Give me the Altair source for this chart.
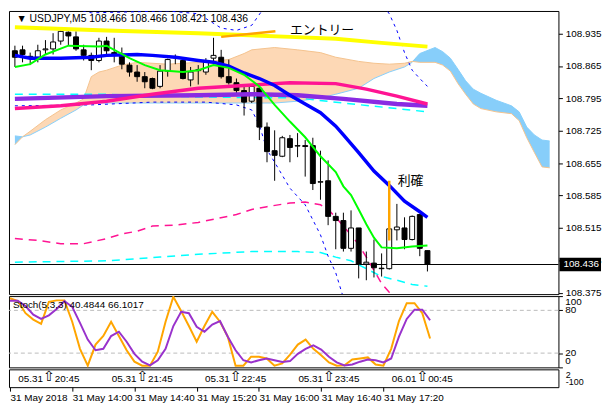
import altair as alt
import pandas as pd

# ---------------- data ----------------
bar_idx = list(range(55))
opens = [108.898, 108.900, 108.886, 108.884, 108.900, 108.902, 108.919, 108.938, 108.928, 108.900,
         108.888, 108.877, 108.919, 108.894, 108.886, 108.867, 108.852, 108.842, 108.838, 108.821,
         108.854, 108.885, 108.877, 108.835, 108.855, 108.852, 108.882, 108.884, 108.842, 108.829,
         108.812, 108.789, 108.817, 108.733, 108.682, 108.670, 108.708, 108.692, 108.693, 108.693,
         108.614, 108.617, 108.540, 108.531, 108.471, 108.515, 108.437, 108.439, 108.428, 108.427,
         108.511, 108.515, 108.490, 108.544, 108.466]
highs = [108.909, 108.909, 108.894, 108.911, 108.921, 108.936, 108.942, 108.940, 108.940, 108.911,
         108.894, 108.926, 108.928, 108.926, 108.905, 108.873, 108.867, 108.852, 108.840, 108.867,
         108.881, 108.890, 108.884, 108.863, 108.867, 108.882, 108.926, 108.900, 108.879, 108.838,
         108.821, 108.825, 108.821, 108.743, 108.726, 108.714, 108.716, 108.720, 108.705, 108.710,
         108.682, 108.661, 108.548, 108.548, 108.553, 108.515, 108.464, 108.490, 108.460, 108.515,
         108.567, 108.538, 108.542, 108.544, 108.466]
lows = [108.863, 108.873, 108.867, 108.873, 108.890, 108.890, 108.911, 108.909, 108.898, 108.877,
        108.856, 108.873, 108.888, 108.873, 108.858, 108.842, 108.831, 108.817, 108.815, 108.817,
        108.842, 108.869, 108.836, 108.821, 108.825, 108.846, 108.869, 108.838, 108.825, 108.800,
        108.758, 108.785, 108.705, 108.657, 108.617, 108.668, 108.657, 108.668, 108.626, 108.597,
        108.576, 108.521, 108.469, 108.464, 108.464, 108.406, 108.402, 108.408, 108.410, 108.425,
        108.488, 108.469, 108.488, 108.454, 108.421]
closes = [108.884, 108.890, 108.882, 108.898, 108.902, 108.917, 108.940, 108.930, 108.902, 108.888,
          108.877, 108.919, 108.898, 108.888, 108.869, 108.852, 108.842, 108.831, 108.817, 108.854,
          108.879, 108.883, 108.838, 108.852, 108.857, 108.873, 108.888, 108.842, 108.829, 108.812,
          108.787, 108.821, 108.733, 108.680, 108.672, 108.710, 108.689, 108.693, 108.691, 108.611,
          108.615, 108.540, 108.531, 108.471, 108.515, 108.437, 108.441, 108.429, 108.427, 108.513,
          108.517, 108.490, 108.540, 108.471, 108.436]

yellow_idx = [0, 12, 24, 36, 42, 48, 54]
yellow_val = [108.949, 108.942, 108.936, 108.928, 108.924, 108.915, 108.907]

blue_idx = [0, 2, 6, 10, 12, 16, 18, 21, 24, 26, 28, 30, 32, 34, 36, 38, 40, 42, 43, 45, 47, 49, 51, 53, 54]
blue_val = [108.888, 108.882, 108.882, 108.884, 108.888, 108.890, 108.888, 108.884, 108.877, 108.873,
            108.865, 108.850, 108.838, 108.823, 108.802, 108.783, 108.764, 108.735, 108.716, 108.678,
            108.638, 108.607, 108.573, 108.550, 108.538]

green_idx = [0, 2, 4, 7, 11, 12, 13, 15, 17, 19, 22, 24, 26, 28, 30, 32, 34, 36, 38, 40, 42, 43, 44,
             45, 46, 47, 48, 50, 52, 54]
green_val = [108.863, 108.869, 108.890, 108.909, 108.907, 108.909, 108.900, 108.882, 108.867, 108.856,
             108.852, 108.856, 108.867, 108.861, 108.846, 108.821, 108.781, 108.745, 108.711, 108.670,
             108.636, 108.605, 108.586, 108.555, 108.523, 108.494, 108.473, 108.471, 108.475, 108.477]

pink_idx = [0, 6, 12, 18, 24, 30, 36, 42, 46, 50, 54]
pink_val = [108.773, 108.779, 108.789, 108.804, 108.817, 108.823, 108.829, 108.827, 108.815, 108.800, 108.783]

purple_idx = [0, 12, 24, 31, 37, 43, 50, 54]
purple_val = [108.794, 108.800, 108.802, 108.804, 108.802, 108.794, 108.783, 108.779]

cyan_up_idx = [0, 12, 24, 37, 43, 50, 54]
cyan_up_val = [108.804, 108.804, 108.798, 108.796, 108.785, 108.773, 108.766]

cyan_lo_idx = [0, 12, 19, 24, 31, 37, 40, 42, 44, 46, 48, 50, 52, 54]
cyan_lo_val = [108.441, 108.444, 108.452, 108.458, 108.464, 108.464, 108.462, 108.452, 108.444, 108.427,
               108.410, 108.402, 108.393, 108.389]

pinkd_idx = [0, 3, 6, 9, 12, 14, 16, 18, 21, 24, 29, 31, 33, 36, 38, 40, 41, 42, 44, 45, 46, 48, 49, 50]
pinkd_val = [108.492, 108.488, 108.481, 108.481, 108.492, 108.502, 108.508, 108.519, 108.521, 108.527,
             108.544, 108.555, 108.561, 108.569, 108.571, 108.565, 108.555, 108.538, 108.500, 108.479,
             108.452, 108.395, 108.376, 108.360]

bluelo_idx = [0, 10, 18, 25, 29, 31, 32, 33, 34, 36, 38, 40, 41, 42, 43]
bluelo_val = [108.779, 108.781, 108.787, 108.787, 108.781, 108.770, 108.737, 108.684, 108.657, 108.601,
              108.565, 108.500, 108.454, 108.418, 108.364]

blueup_idx = [8, 10, 15, 20, 24, 27, 29, 31, 33, 48, 49, 50, 51, 52, 53, 54]
blueup_val = [108.988, 108.980, 108.982, 108.984, 108.978, 108.947, 108.942, 108.953, 109.000, 109.000,
              108.978, 108.942, 108.894, 108.856, 108.838, 108.821]

cloud_idx = [0, 1, 2, 4, 6, 8, 9, 10, 11, 12, 14, 16, 20, 24, 28, 30, 31, 34, 37, 40,
             42, 45, 47, 49, 51, 52, 53, 55, 56, 57, 58, 59, 60, 61, 63, 65, 66, 67, 68, 69, 70]
span_a = [108.695, 108.712, 108.724, 108.749, 108.770, 108.785, 108.794, 108.842, 108.852, 108.856,
          108.867, 108.873, 108.869, 108.873, 108.879, 108.892, 108.900, 108.905, 108.900, 108.894,
          108.884, 108.875, 108.871, 108.869, 108.871, 108.875, 108.873, 108.873, 108.867, 108.854,
          108.827, 108.804, 108.783, 108.773, 108.766, 108.762, 108.747, 108.710, 108.678, 108.647,
          108.645]
span_b = [108.714, 108.712, 108.716, 108.733, 108.752, 108.770, 108.781, 108.785, 108.785, 108.785,
          108.785, 108.785, 108.785, 108.785, 108.785, 108.785, 108.785, 108.785, 108.789, 108.796,
          108.804, 108.817, 108.838, 108.852, 108.863, 108.873, 108.892, 108.905, 108.896, 108.882,
          108.858, 108.833, 108.815, 108.806, 108.791, 108.779, 108.766, 108.733, 108.716, 108.705,
          108.703]

entry_line_idx = [27, 34.1]
entry_line_val = [108.928, 108.940]
tp_line_idx = [49, 49]
tp_line_val = [108.617, 108.488]

stoch_main = [97, 93, 76, 67, 61, 92, 94, 94, 64, 26, 2.5, 32, 44, 64, 44, 24, 8, 2.4, 2.4, 22,
              64, 99, 79, 58, 36, 58, 78, 64, 43, 2.4, 2.4, 15, 15, 12.5, 2.4, 5.6, 18, 32, 39, 26,
              17, 7, 2.4, 2.8, 11, 12.5, 14, 4, 2.4, 26, 65, 90, 90, 76, 40.4844]
stoch_signal = [93.5, 93.5, 86, 74, 68, 73, 82, 93, 85, 62.5, 39, 24, 26, 44, 50, 36, 19, 8, 2.8, 10,
                26, 58, 78, 76, 57, 50, 60, 65, 43, 24, 10, 7, 10, 12.5, 10, 7.6, 8.8, 19, 26, 31,
                25, 15, 7, 2.8, 4, 8, 11, 10, 7, 12.5, 43, 68, 81, 81, 66.1017]
stoch_levels = [20, 80]
stoch_ticks = [0, 20, 80, 100]

price_ticks = [108.375, 108.445, 108.515, 108.585, 108.655, 108.725, 108.795, 108.865, 108.935]
current_price = 108.436

time_tick_idx = [0, 8, 16, 24, 32, 40, 48]
time_tick_labels = ["31 May 2018", "31 May 14:00", "31 May 14:40", "31 May 15:20",
                    "31 May 16:00", "31 May 16:40", "31 May 17:20"]

marker_idx = [5, 17, 29, 41, 53]
marker_date = ["05.31", "05.31", "05.31", "05.31", "06.01"]
marker_time = ["20:45", "21:45", "22:45", "23:45", "00:45"]

third_ticks = [0.7, 0.32]
third_labels = ["2", "-100"]

header_text = "▼ USDJPY,M5  108.466 108.466 108.421 108.436"
stoch_text = "Stoch(5,3,3) 40.4844 66.1017"

# ---------------- layout ----------------
W = 555
H_MAIN = 286
H_STOCH = 72
H_THIRD = 18
FONT = "Liberation Sans"
JP = "Noto Sans CJK JP"

xs = alt.Scale(domain=[-0.125, 70.5], nice=False, zero=False)
ys = alt.Scale(domain=[108.372, 108.984], nice=False, zero=False)
X = alt.X("i:Q", scale=xs, axis=None)

price_axis = alt.Axis(orient="right", values=price_ticks, format=".3f", title=None,
                      tickSize=4, labelPadding=3, domain=False, grid=False, labelOverlap=False)


def Y(field):
    return alt.Y(field, scale=ys, axis=price_axis)


def line_layer(idx, vals, color, width, dash=None):
    df = pd.DataFrame({"i": idx, "v": vals})
    kw = dict(color=color, strokeWidth=width, clip=True)
    if dash:
        kw["strokeDash"] = dash
    return alt.Chart(df).mark_line(**kw).encode(x=X, y=Y("v:Q"))


cloud = pd.DataFrame({"i": cloud_idx, "a": span_a, "b": span_b})
cloud["top"] = cloud[["a", "b"]].max(axis=1)

cloud_peach = alt.Chart(cloud).mark_area(color="#FDD8B5", opacity=1, clip=True).encode(
    x=X, y=Y("top:Q"), y2="b:Q")
cloud_blue = alt.Chart(cloud).mark_area(color="#87CEFA", opacity=1, clip=True).encode(
    x=X, y=Y("top:Q"), y2="a:Q")
edge_b = line_layer(cloud_idx, span_b, "#87CEFA", 1)
edge_a = line_layer(cloud_idx, span_a, "#F4C28E", 1)

cur_df = pd.DataFrame({"p": [current_price], "t": [f"{current_price:.3f}"]})
cur_df["p_hi"] = cur_df["p"] + 0.0145
cur_df["p_lo"] = cur_df["p"] - 0.0145
cur_rule = alt.Chart(cur_df).mark_rule(color="black", strokeWidth=1).encode(y=Y("p:Q"))
cur_box = alt.Chart(cur_df).mark_rect(color="black").encode(
    x=alt.value(W + 1), x2=alt.value(W + 43), y=Y("p_hi:Q"), y2="p_lo:Q")
cur_txt = alt.Chart(cur_df).mark_text(color="white", font=FONT, fontSize=10, align="left",
                                      baseline="middle").encode(
    x=alt.value(W + 5), y=Y("p:Q"), text="t:N")

candles = pd.DataFrame({"i": bar_idx, "o": opens, "h": highs, "l": lows, "c": closes})
wicks = alt.Chart(candles).mark_rule(color="black", strokeWidth=1).encode(
    x=X, y=Y("l:Q"), y2="h:Q")
bodies = alt.Chart(candles).mark_bar(size=5, stroke="black", strokeWidth=1).encode(
    x=X, y=Y("o:Q"), y2="c:Q",
    fill=alt.condition("datum.c >= datum.o", alt.value("white"), alt.value("black")))

ann = pd.DataFrame({"i": [0.2, 36.0, 50.1], "v": [108.966, 108.942, 108.617],
                    "t": [header_text, "エントリー", "利確"]})
head_txt = alt.Chart(ann.iloc[[0]]).mark_text(font=FONT, fontSize=10.5, align="left",
                                              baseline="middle", color="black").encode(
    x=X, y=Y("v:Q"), text="t:N")
jp_txt = alt.Chart(ann.iloc[[1, 2]]).mark_text(font=JP, fontSize=13, align="left",
                                               baseline="middle", color="black").encode(
    x=X, y=Y("v:Q"), text="t:N")

main = alt.layer(
    cloud_peach, cloud_blue, edge_b, edge_a,
    cur_rule,
    line_layer(cyan_up_idx, cyan_up_val, "#00FFFF", 1.5, [8, 6]),
    line_layer(cyan_lo_idx, cyan_lo_val, "#00FFFF", 1.5, [8, 6]),
    line_layer(pinkd_idx, pinkd_val, "#FF1493", 1.5, [8, 6]),
    line_layer(bluelo_idx, bluelo_val, "#0000FF", 1, [3, 4]),
    line_layer(blueup_idx, blueup_val, "#0000FF", 1, [3, 4]),
    wicks, bodies,
    line_layer(purple_idx, purple_val, "#8A2BE2", 4.5),
    line_layer(pink_idx, pink_val, "#FF1493", 3.5),
    line_layer(yellow_idx, yellow_val, "#FFFF00", 4),
    line_layer(blue_idx, blue_val, "#0000FF", 3.5),
    line_layer(green_idx, green_val, "#00FF00", 2),
    line_layer(entry_line_idx, entry_line_val, "#FFA500", 2.5),
    line_layer(tp_line_idx, tp_line_val, "#FFA500", 2.5),
    head_txt, jp_txt,
    cur_box, cur_txt,
).properties(width=W, height=H_MAIN)

# ---------------- stochastic ----------------
sy = alt.Scale(domain=[0, 100], nice=False, zero=False)
st_axis = alt.Axis(orient="right", values=stoch_ticks, title=None, tickSize=4, labels=False,
                   domain=False, grid=False)


def SY(field):
    return alt.Y(field, scale=sy, axis=st_axis)


st_df = pd.DataFrame({"i": bar_idx, "k": stoch_main, "d": stoch_signal})
lv_df = pd.DataFrame({"lv": stoch_levels})
st_levels = alt.Chart(lv_df).mark_rule(color="#BBBBBB", strokeDash=[4, 3], strokeWidth=1).encode(
    y=SY("lv:Q"))
st_k = alt.Chart(st_df).mark_line(color="#FFA500", strokeWidth=2, clip=True).encode(x=X, y=SY("k:Q"))
st_d = alt.Chart(st_df).mark_line(color="#9932CC", strokeWidth=2, clip=True).encode(x=X, y=SY("d:Q"))
st_lab_df = pd.DataFrame({"i": [0.4], "v": [88], "t": [stoch_text]})
st_lab = alt.Chart(st_lab_df).mark_text(font=FONT, fontSize=10, align="left", baseline="middle",
                                        color="black").encode(x=X, y=SY("v:Q"), text="t:N")

# tick labels: the end labels are pulled inside the panel as in the terminal
tick_df = pd.DataFrame({"v": stoch_ticks, "t": [str(v) for v in stoch_ticks]})
st_tick_txt = alt.Chart(tick_df).transform_calculate(
    lv="datum.v >= 100 ? 91 : (datum.v <= 0 ? 9 : datum.v)"
).mark_text(font=FONT, fontSize=10, align="left", baseline="middle", color="black").encode(
    x=alt.value(W + 7), y=alt.Y("lv:Q", scale=sy, axis=st_axis), text="t:N")
stoch = alt.layer(st_levels, st_k, st_d, st_lab, st_tick_txt).properties(width=W, height=H_STOCH)

# ---------------- third panel with time markers + x axis ----------------
label_expr = ("[" + ",".join(f"'{s}'" for s in time_tick_labels) + "][indexof(["
              + ",".join(str(v) for v in time_tick_idx) + "], datum.value)]")
time_axis = alt.Axis(values=time_tick_idx, labelExpr=label_expr, labelAlign="left", tickSize=4,
                     labelPadding=1, domain=False, grid=False, title=None, labelFontSize=10,
                     labelOverlap=False)

t_scale = alt.Scale(domain=[0, 1], nice=False, zero=False)
t_lab_expr = ("[" + ",".join(f"'{s}'" for s in third_labels) + "][indexof(["
              + ",".join(str(v) for v in third_ticks) + "], datum.value)]")
t_axis = alt.Axis(orient="right", values=third_ticks, labelExpr=t_lab_expr, title=None, tickSize=0,
                  labelPadding=7, domain=False, grid=False, labelFontSize=9, labelOverlap=False)

mk_df = pd.DataFrame({"i": marker_idx, "d": marker_date, "t": marker_time,
                      "a": ["⇧"] * len(marker_idx)})
mk_df["i_left"] = mk_df["i"] - 0.75
mk_df["i_right"] = mk_df["i"] + 0.75
mk_date = alt.Chart(mk_df).mark_text(font=FONT, fontSize=10, align="right", baseline="middle",
                                     color="black").encode(
    x=alt.X("i_left:Q", scale=xs, axis=time_axis), y=alt.value(10), text="d:N")
mk_time = alt.Chart(mk_df).mark_text(font=FONT, fontSize=10, align="left", baseline="middle",
                                     color="black").encode(
    x=alt.X("i_right:Q", scale=xs, axis=time_axis), y=alt.value(10), text="t:N")
mk_arrow = alt.Chart(mk_df).mark_text(font="DejaVu Sans", fontSize=14, align="center",
                                      baseline="middle", color="black").encode(
    x=alt.X("i:Q", scale=xs, axis=time_axis), y=alt.value(8), text="a:N")
tk_df = pd.DataFrame({"yv": third_ticks})
t_ticks = alt.Chart(tk_df).mark_point(opacity=0).encode(
    y=alt.Y("yv:Q", scale=t_scale, axis=t_axis))
third = alt.layer(t_ticks, mk_date, mk_time, mk_arrow).properties(width=W, height=H_THIRD)

chart = alt.vconcat(main, stoch, third, spacing=2, bounds="flush").properties(
    padding={"left": 0, "top": 0, "right": 0, "bottom": 0},
    background="white",
).configure_view(stroke="black", strokeWidth=1, fill="white").configure_axis(
    labelFont=FONT, labelFontSize=10, labelColor="black", tickColor="black", domainColor="black",
)

chart.save("out.html", embed_options={"renderer": "svg", "actions": False})
